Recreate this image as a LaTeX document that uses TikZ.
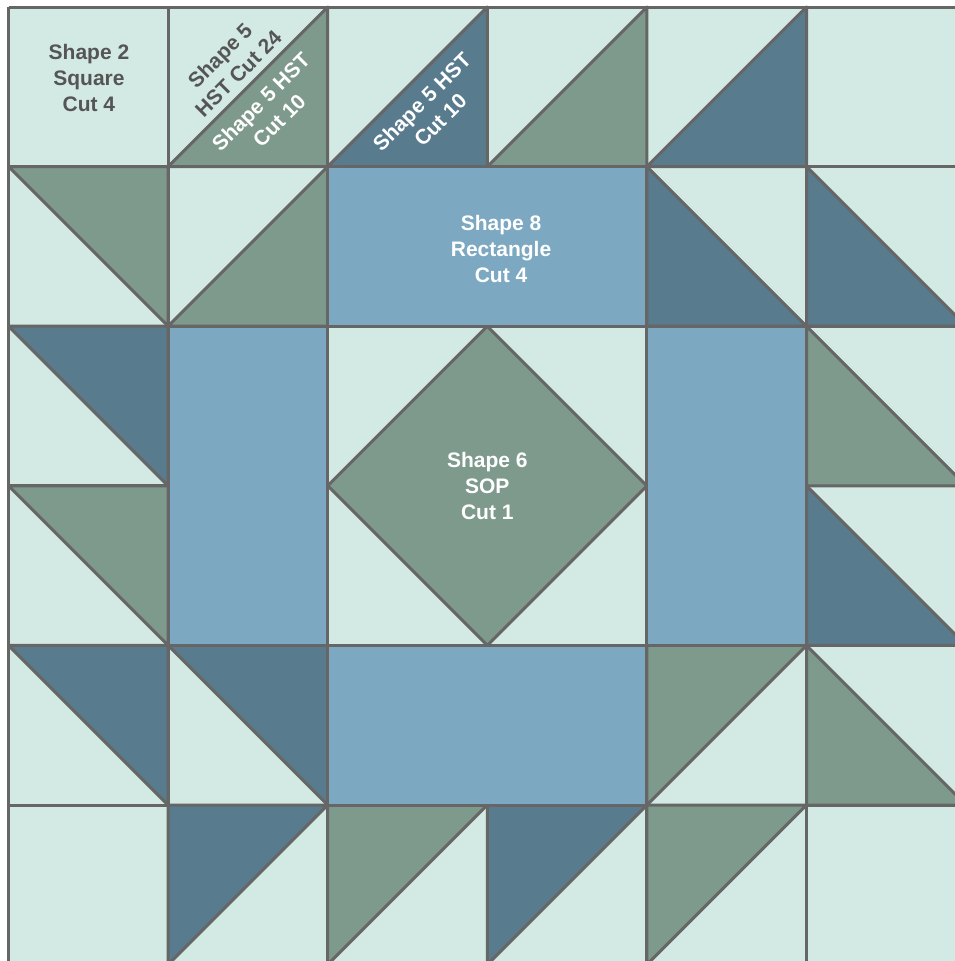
\documentclass[tikz,border=0pt]{standalone}
\usepackage{fontspec}
\setmainfont{Liberation Sans}
\usepackage{xcolor}
\usepackage{tikz}
\definecolor{quiltlight}{RGB}{210, 234, 227}
\definecolor{quiltsage}{RGB}{126, 154, 140}
\definecolor{quiltslate}{RGB}{88, 123, 142}
\definecolor{quiltblue}{RGB}{124, 168, 193}
\definecolor{quiltseam}{RGB}{102, 102, 102}
\definecolor{quilttext}{RGB}{85, 85, 85}

\begin{document}
\begin{tikzpicture}[
    x=159.6pt, y=159.6pt,
    seam/.style={draw=quiltseam, line width=3pt, line join=round},
    sage/.style={seam, fill=quiltsage},
    slate/.style={seam, fill=quiltslate},
    strip/.style={seam, fill=quiltblue},
    cuttext/.style={
        font=\fontsize{21}{26}\selectfont\bfseries,
        align=center, inner sep=0pt
    },
    darkcut/.style={cuttext, text=quilttext},
    whitecut/.style={cuttext, text=white}
]
    % frame and background
    \useasboundingbox (-0.0533,0.0226) rectangle (5.9304,6.0439);
    \fill[white] (-0.0533,0.0226) rectangle (5.9304,6.0439);
    \clip (-0.0533,0.0226) rectangle (5.9304,6.0439);
    \fill[quiltlight] (0,0) rectangle (6,6);
    \draw[seam, step=1] (0,0) grid (6,6);

    % top row
    \draw[sage]  (1,5) -- (2,5) -- (2,6) -- cycle;
    \draw[slate] (2,5) -- (3,5) -- (3,6) -- cycle;
    \draw[sage]  (3,5) -- (4,5) -- (4,6) -- cycle;
    \draw[slate] (4,5) -- (5,5) -- (5,6) -- cycle;

    % second row
    \draw[sage]  (0,5) -- (1,5) -- (1,4) -- cycle;
    \draw[sage]  (1,4) -- (2,4) -- (2,5) -- cycle;
    \draw[slate] (4,5) -- (4,4) -- (5,4) -- cycle;
    \draw[slate] (5,5) -- (5,4) -- (6,4) -- cycle;

    % left and right columns
    \draw[slate] (0,4) -- (1,4) -- (1,3) -- cycle;
    \draw[sage]  (0,3) -- (1,3) -- (1,2) -- cycle;
    \draw[sage]  (5,4) -- (5,3) -- (6,3) -- cycle;
    \draw[slate] (5,3) -- (5,2) -- (6,2) -- cycle;

    % fifth row
    \draw[slate] (0,2) -- (1,2) -- (1,1) -- cycle;
    \draw[slate] (1,2) -- (2,2) -- (2,1) -- cycle;
    \draw[sage]  (4,1) -- (4,2) -- (5,2) -- cycle;
    \draw[sage]  (5,2) -- (5,1) -- (6,1) -- cycle;

    % bottom row
    \draw[slate] (1,0) -- (1,1) -- (2,1) -- cycle;
    \draw[sage]  (2,0) -- (2,1) -- (3,1) -- cycle;
    \draw[slate] (3,0) -- (3,1) -- (4,1) -- cycle;
    \draw[sage]  (4,0) -- (4,1) -- (5,1) -- cycle;

    % rectangles
    \draw[strip] (2,4) rectangle (4,5);
    \draw[strip] (2,1) rectangle (4,2);
    \draw[strip] (1,2) rectangle (2,4);
    \draw[strip] (4,2) rectangle (5,4);

    % square on point
    \draw[seam, fill=quiltlight] (2,2) rectangle (4,4);
    \draw[sage] (3,4) -- (4,3) -- (3,2) -- (2,3) -- cycle;

    % cutting labels
    \node[darkcut] (sq2) at (0.504,5.555) {Shape 2\\Square\\Cut 4};
    \node[darkcut, rotate=45] (hst24) at (1.382,5.640) {Shape 5\\HST Cut 24};
    \node[whitecut, rotate=45] (hst10a) at (1.638,5.348) {Shape 5 HST\\Cut 10};
    \node[whitecut, rotate=45] (hst10b) at (2.647,5.350) {Shape 5 HST\\Cut 10};
    \node[whitecut] (rect8) at (3.086,4.481) {Shape 8\\Rectangle\\Cut 4};
    \node[whitecut] (sop6) at (3,3) {Shape 6\\SOP\\Cut 1};
\end{tikzpicture}
\end{document}
